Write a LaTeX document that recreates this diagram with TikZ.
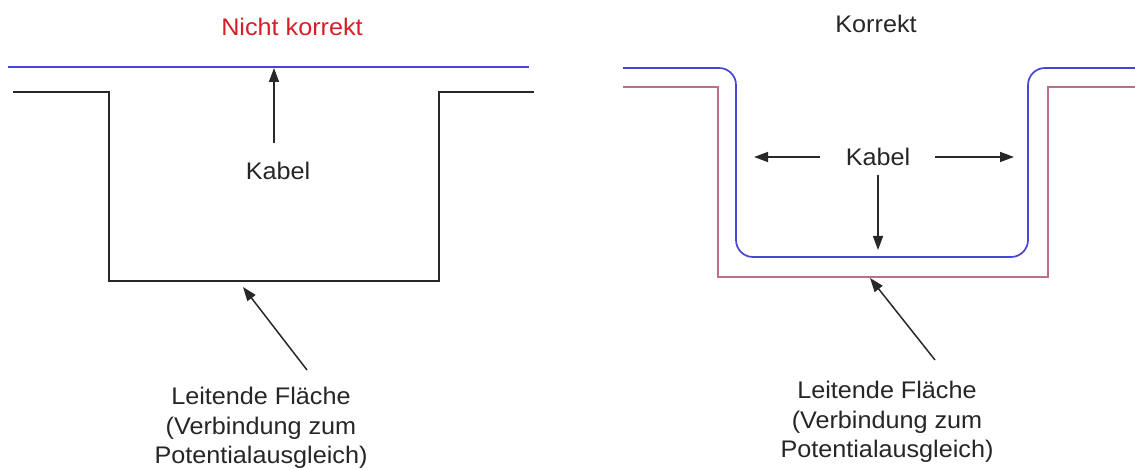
\documentclass[tikz,border=0pt]{standalone}
\usepackage{fontspec}
\setmainfont[FakeStretch=1.05]{Liberation Sans}
\usetikzlibrary{arrows.meta}
\definecolor{cabblue}{RGB}{70,70,215}
\definecolor{surfpink}{RGB}{185,110,140}
\definecolor{titlered}{RGB}{215,30,40}
\definecolor{linegray}{RGB}{40,40,40}
\tikzset{
  lbl/.style={font=\fontsize{24}{29.5}\selectfont, align=center, inner sep=0pt, text=black!85},
  arr/.style={-{Triangle[length=14pt,width=10pt]}, line width=1.5pt, draw=linegray},
  cable/.style={draw=cabblue, line width=1.7pt},
  surf/.style={draw=linegray, line width=1.7pt},
  surfp/.style={draw=surfpink, line width=1.7pt},
}
\begin{document}
\begin{tikzpicture}[x=1pt,y=-1pt]
\useasboundingbox (0,0) rectangle (1135,470);
% ---------- left: nicht korrekt ----------
\node[lbl, text=titlered] (titleL) at (292,27) {Nicht korrekt};
\draw[cable] (8,67) -- (529,67);
\draw[surf] (13,92) -- (109,92) -- (109,281) -- (439,281) -- (439,92) -- (534,92);
\node[lbl] (kabL) at (278,171) {Kabel};
\coordinate (kabLtail) at (274,143);
\coordinate (kabLtip) at (274,68);
\draw[arr] (kabLtail) -- (kabLtip);
\node[lbl] (leitL) at (261,428) {Leitende Fläche\\(Verbindung zum\\Potentialausgleich)};
\coordinate (leitLtail) at (307,370);
\coordinate (leitLtip) at (243,287);
\draw[arr] (leitLtail) -- (leitLtip);
% ---------- right: korrekt ----------
\node[lbl] (titleR) at (876,24) {Korrekt};
\draw[cable, rounded corners=17pt] (623,68) -- (736,68) -- (736,257) -- (1028,257) -- (1028,68) -- (1140,68);
\draw[surfp] (623,87) -- (718,87) -- (718,277) -- (1048,277) -- (1048,87) -- (1140,87);
\node[lbl] (kabR) at (878,157) {Kabel};
\coordinate (kabRl) at (820,157);
\coordinate (kabRlt) at (754,157);
\coordinate (kabRr) at (935,157);
\coordinate (kabRrt) at (1014,157);
\coordinate (kabRd) at (878,175);
\coordinate (kabRdt) at (878,250);
\draw[arr] (kabRl) -- (kabRlt);
\draw[arr] (kabRr) -- (kabRrt);
\draw[arr] (kabRd) -- (kabRdt);
\node[lbl] (leitR) at (887,422) {Leitende Fläche\\(Verbindung zum\\Potentialausgleich)};
\coordinate (leitRtail) at (935,360);
\coordinate (leitRtip) at (870,278);
\draw[arr] (leitRtail) -- (leitRtip);
\end{tikzpicture}
\end{document}
